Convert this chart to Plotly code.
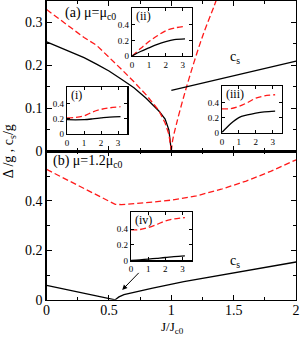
import plotly.graph_objects as go

W, H = 304, 343

# ---------------- data ----------------
# panel (a) mu = mu_c0
a_gap_J = [0, 0.1, 0.2, 0.3, 0.4, 0.5, 0.6, 0.7, 0.8, 0.9, 0.95, 0.98, 1.0]
a_gap = [0.255, 0.243, 0.231, 0.218, 0.203, 0.187, 0.168, 0.148, 0.123, 0.094, 0.075, 0.050, 0.0]
a_red_left_J = [0, 0.1, 0.2, 0.3, 0.4, 0.5, 0.6, 0.7, 0.8, 0.9, 0.95, 0.98, 1.0]
a_red_left = [0.330, 0.309, 0.287, 0.265, 0.247, 0.220, 0.191, 0.162, 0.131, 0.095, 0.066, 0.040, 0.0]
a_red_right_J = [1.0, 1.01, 1.04, 1.1, 1.18, 1.26, 1.34, 1.37]
a_red_right = [0.0, 0.025, 0.063, 0.128, 0.206, 0.276, 0.336, 0.36]
a_cs_J = [1.0, 1.5, 2.0]
a_cs = [0.142, 0.176, 0.21]

# panel (b) mu = 1.2 mu_c0
b_red_J = [0, 0.2, 0.4, 0.55, 0.6, 0.7, 0.85, 1.0, 1.2, 1.4, 1.6, 1.8, 2.0]
b_red = [0.527, 0.475, 0.423, 0.386, 0.385, 0.388, 0.395, 0.403, 0.42, 0.447, 0.48, 0.52, 0.566]
b_blk_J = [0, 0.55, 0.56, 0.58, 0.62, 0.7, 0.85, 1.1, 1.37, 1.63, 2.0]
b_blk = [0.058, 0.0, 0.004, 0.012, 0.021, 0.031, 0.047, 0.074, 0.098, 0.123, 0.153]

# insets
ins_x = [0, 0.5, 1, 1.5, 2, 2.5, 3.14]
ins1_blk = [0.19, 0.188, 0.19, 0.20, 0.213, 0.224, 0.23]
ins1_red = [0.213, 0.22, 0.24, 0.29, 0.325, 0.345, 0.36]
ins2_blk = [0, 0.057, 0.105, 0.15, 0.185, 0.21, 0.22]
ins2_red = [0, 0.095, 0.185, 0.26, 0.325, 0.36, 0.38]
ins3_blk = [0, 0.114, 0.2, 0.235, 0.26, 0.277, 0.287]
ins3_red = [0.317, 0.32, 0.35, 0.40, 0.46, 0.49, 0.506]
ins4_blk = [0, 0.008, 0.018, 0.028, 0.038, 0.05, 0.06]
ins4_red = [0.39, 0.395, 0.42, 0.46, 0.505, 0.53, 0.548]

main_xticks = [0, 0.5, 1, 1.5, 2]
main_xlabels = ["0", "0.5", "1", "1.5", "2"]
a_yticks = [0, 0.1, 0.2, 0.3]
a_ylabels = ["0", "0.1", "0.2", "0.3"]
b_yticks = [0, 0.2, 0.4]
b_ylabels = ["0", "0.2", "0.4"]
ins_xticks = [0, 1, 2, 3]
ins_yticks = [0, 0.2, 0.4]
ins_ylabels = ["0", "0.2", "0.4"]

# ---------------- helpers ----------------
def fx(px):
    return px / W

def fy(py):
    return 1 - py / H

FONT = "Liberation Serif, Times New Roman, Times, serif"
RED = "#ff1a1a"
LW = 1.3

fig = go.Figure()

def line(x, y, xa, ya, red=False, shape="linear"):
    fig.add_trace(go.Scatter(
        x=x, y=y, xaxis=xa, yaxis=ya, mode="lines", showlegend=False,
        line=dict(color=RED if red else "black", width=LW,
                  dash="6px,3px" if red else "solid", shape=shape),
        hoverinfo="skip"))

line(a_gap_J, a_gap, "x", "y")
line(a_red_left_J, a_red_left, "x", "y", red=True)
line(a_red_right_J, a_red_right, "x", "y", red=True, shape="spline")
line(a_cs_J, a_cs, "x", "y")
line(b_red_J, b_red, "x2", "y2", red=True)
line(b_blk_J, b_blk, "x2", "y2")

ins_data = [(ins1_blk, ins1_red), (ins2_blk, ins2_red), (ins3_blk, ins3_red), (ins4_blk, ins4_red)]
for i, (bk, rd) in enumerate(ins_data):
    n = i + 3
    line(ins_x, rd, f"x{n}", f"y{n}", red=True, shape="spline")
    line(ins_x, bk, f"x{n}", f"y{n}", shape="spline")

main_dom_x = [fx(44.5), fx(299)]
tickfont_main = dict(family=FONT, size=14, color="black")
tickfont_ins = dict(family=FONT, size=9, color="black")

common = dict(showgrid=False, zeroline=False, showline=True, linecolor="black",
              linewidth=LW, ticks="inside", tickcolor="black", tickwidth=1,
              mirror="ticks", ticklabeloverflow="allow")

layout = dict(
    width=W, height=H, margin=dict(l=0, r=0, t=0, b=0),
    paper_bgcolor="white", plot_bgcolor="white", showlegend=False,
    font=dict(family=FONT, color="black"),
    xaxis=dict(domain=main_dom_x, range=[0, 2], anchor="y", tickvals=main_xticks,
               showticklabels=False, ticklen=5,
               minor=dict(ticks="inside", dtick=0.25, ticklen=3, tickcolor="black"), **common),
    yaxis=dict(domain=[fy(155), fy(1)], range=[0, 0.35], anchor="x", tickvals=a_yticks,
               ticktext=a_ylabels, tickfont=tickfont_main, ticklen=5,
               minor=dict(ticks="inside", dtick=0.05, ticklen=3, tickcolor="black"), **common),
    xaxis2=dict(domain=main_dom_x, range=[0, 2], anchor="y2", tickvals=main_xticks,
                ticktext=main_xlabels, tickfont=tickfont_main, ticklen=5,
                ticklabelstandoff=-3,
                minor=dict(ticks="inside", dtick=0.25, ticklen=3, tickcolor="black"), **common),
    yaxis2=dict(domain=[fy(307), fy(155)], range=[0, 0.6], anchor="x2", tickvals=b_yticks,
                ticktext=b_ylabels, tickfont=tickfont_main, ticklen=5,
                minor=dict(ticks="inside", dtick=0.1, ticklen=3, tickcolor="black"), **common),
)

ins_boxes = [
    (65.3, 127.0, 89.0, 137.3),
    (131.7, 192.7, 8.0, 57.3),
    (223.3, 284.7, 88.3, 135.7),
    (130.7, 192.7, 217.0, 266.7),
]
ins_common = dict(showgrid=False, zeroline=False, showline=True, linecolor="black",
                  linewidth=1.2, ticks="inside", tickcolor="black", tickwidth=1,
                  ticklen=3, mirror="ticks", tickfont=tickfont_ins)
for i, (x0, x1, y0, y1) in enumerate(ins_boxes):
    n = i + 3
    layout[f"xaxis{n}"] = dict(domain=[fx(x0), fx(x1)], range=[0, 3.55], anchor=f"y{n}",
                               tickvals=ins_xticks, ticklabelstandoff=0, **ins_common)
    layout[f"yaxis{n}"] = dict(domain=[fy(y1), fy(y0)], range=[0, 0.62], anchor=f"x{n}",
                               tickvals=ins_yticks, ticktext=ins_ylabels,
                               ticklabelstandoff=0, **ins_common)

fig.update_layout(**layout)

def text(px, py, s, size=14, xanchor="left", yanchor="middle", angle=0):
    fig.add_annotation(x=fx(px), y=fy(py), xref="paper", yref="paper", text=s,
                       showarrow=False, xanchor=xanchor, yanchor=yanchor, textangle=angle,
                       font=dict(family=FONT, size=size, color="black"))

text(61, 14, "(a) μ=μ<sub>c0</sub>", size=14)
text(49, 165, "(b) μ=1.2μ<sub>c0</sub>", size=14)
text(237, 59, "c<sub>s</sub>", size=14, xanchor="center")
text(237, 268, "c<sub>s</sub>", size=14, xanchor="center")
text(7, 155, "Δ /g , c<sub>s</sub>/g", size=14, xanchor="center", angle=-90)
text(173, 325, "J/J<sub>c0</sub>", size=13, xanchor="center", yanchor="top")

ins_labels = ["(i)", "(ii)", "(iii)", "(iv)"]
for (x0, x1, y0, y1), lab in zip(ins_boxes, ins_labels):
    text(x0 + 2, y0 + 8, lab, size=12)

fig.add_annotation(x=0.606, y=0.04, ax=0.75, ay=0.115, xref="x2", yref="y2",
                   axref="x2", ayref="y2", showarrow=True, arrowhead=2, arrowsize=1,
                   arrowwidth=1, arrowcolor="black", text="")

# remove the default 8px body margin so the figure sits at the page origin
fig.write_html("out.html", config={"displayModeBar": False, "staticPlot": True},
               post_script="document.body.style.margin='0';document.body.style.overflow='hidden';")
